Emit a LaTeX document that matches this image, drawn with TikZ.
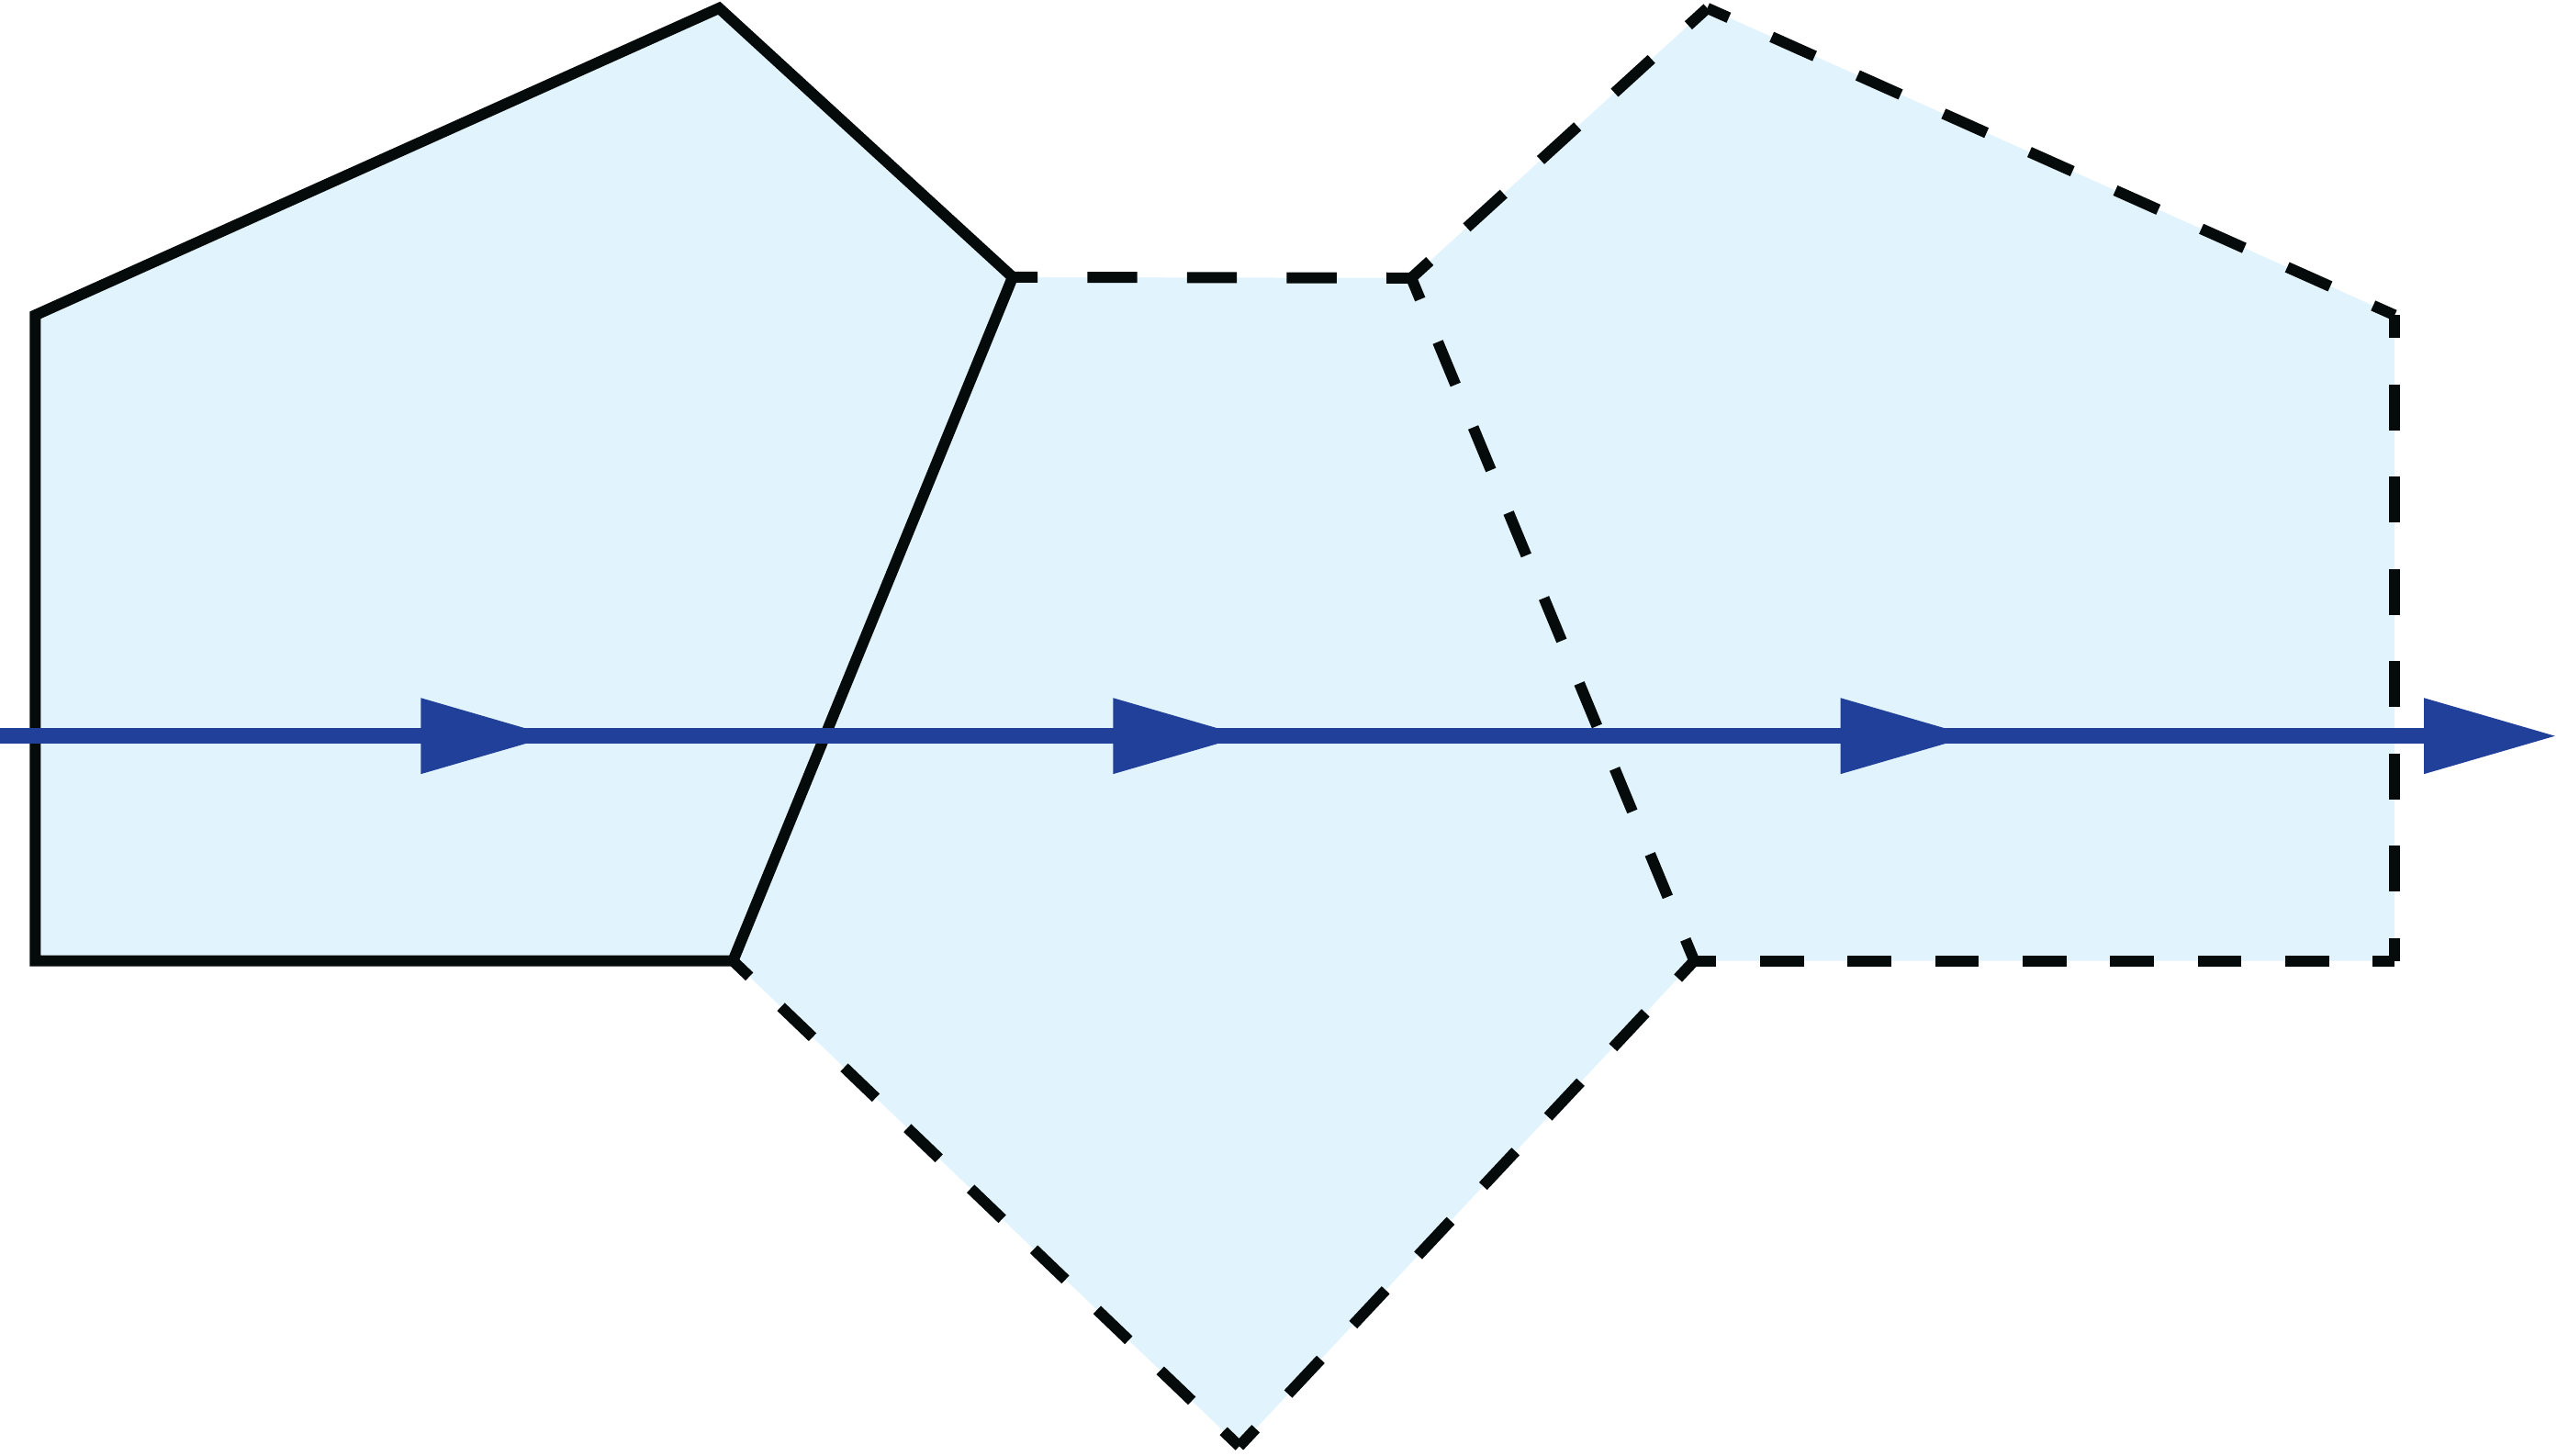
\documentclass[tikz,border=0pt]{standalone}
\usetikzlibrary{arrows.meta,decorations.markings}
\definecolor{cellfill}{HTML}{E1F3FC}
\definecolor{flowblue}{HTML}{21409A}
\definecolor{wallblack}{HTML}{050A0A}
\begin{document}
\begin{tikzpicture}[x=1cm,y=-1cm]
	\tikzset{cell/.style = {fill=cellfill}}
	\tikzset{wall/.style = {draw=wallblack,line width=0.0676cm,line join=miter}}
	\tikzset{flow/.style = {draw=flowblue,line width=0.094cm,->,> = {Triangle[length=0.816cm,width=0.439cm]}}}
	\useasboundingbox (0,0) rectangle (15.681,8.925);
	\coordinate (a) at (0.216,1.933);
	\coordinate (b) at (4.41,0.05);
	\coordinate (c) at (6.21,1.70);
	\coordinate (d) at (4.495,5.893);
	\coordinate (e) at (0.216,5.893);
	\coordinate (f) at (8.655,1.705);
	\coordinate (g) at (10.39,5.893);
	\coordinate (h) at (7.60,8.87);
	\coordinate (i) at (10.47,0.05);
	\coordinate (j) at (14.685,1.933);
	\coordinate (k) at (14.685,5.893);
	\coordinate (in) at (0,4.514);
	\coordinate (out) at (15.681,4.514);
	\fill[cell] (a) -- (b) -- (c) -- (f) -- (i) -- (j) -- (k) -- (g) -- (h) -- (d) -- (e) -- cycle;
	\foreach \p/\q/\n in {c/f/4,f/i/4,i/j/8,j/k/7,k/g/8,f/g/8,g/h/7,h/d/8} {
		\path (\p); \pgfgetlastxy{\px}{\py}
		\path (\q); \pgfgetlastxy{\qx}{\qy}
		\pgfmathsetmacro{\dashlen}{veclen(\qx-\px,\qy-\py)/(2*\n)}
		\pgfmathsetmacro{\dashoff}{\dashlen/2}
		\draw[wall,dash pattern=on \dashlen pt off \dashlen pt,dash phase=\dashoff pt] (\p) -- (\q);
	}
	\draw[wall] (a) -- (b) -- (c) -- (d) -- (e) -- cycle;
	\draw[flow,postaction={decorate},decoration={markings,
		mark=at position 3.397cm with {\arrow{>}},
		mark=at position 7.642cm with {\arrow{>}},
		mark=at position 12.103cm with {\arrow{>}}}] (in) -- (out);
\end{tikzpicture}
\end{document}
